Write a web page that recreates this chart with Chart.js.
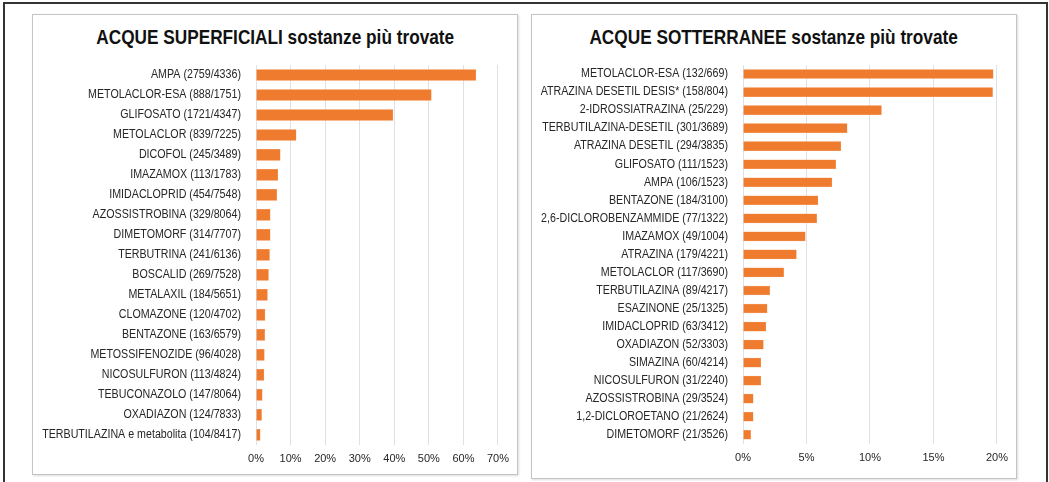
<!DOCTYPE html>
<html>
<head>
<meta charset="utf-8">
<script src="https://cdn.jsdelivr.net/npm/chart.js@4/dist/chart.umd.min.js"></script>
<style>
  html, body { margin: 0; padding: 0; background: #fff; }
  body { width: 1049px; height: 482px; position: relative; overflow: hidden; }
  .frame { position: absolute; left: 3px; top: 2px; width: 1041px; height: 490px; border: 2px solid #333; }
  .panel { position: absolute; top: 14px; width: 484px; border: 1px solid #c4c4c4; box-shadow: 1px 1px 2px #ddd; background: #fff; }
  .panel .title { position: absolute; left: 0; right: 0; top: 10px; text-align: center; }
  .panel .title span { display: inline-block; transform: scaleX(0.82); font-family: "Liberation Sans", Arial, sans-serif; font-weight: bold; font-size: 21px; color: #111; white-space: nowrap; }
  .panel canvas { position: absolute; left: 0; top: 0; }
</style>
</head>
<body>
<div class="frame"></div>
<div class="panel" id="p1" style="left:32px; height:459px;">
  <div class="title"><span>ACQUE SUPERFICIALI sostanze più trovate</span></div>
  <canvas id="supChart" width="484" height="459"></canvas>
</div>
<div class="panel" id="p2" style="left:531px; height:463px;">
  <div class="title"><span>ACQUE SOTTERRANEE sostanze più trovate</span></div>
  <canvas id="sottChart" width="484" height="463"></canvas>
</div>
<script>
const supLabels = [
  "AMPA (2759/4336)", "METOLACLOR-ESA (888/1751)", "GLIFOSATO (1721/4347)", "METOLACLOR (839/7225)",
  "DICOFOL (245/3489)", "IMAZAMOX (113/1783)", "IMIDACLOPRID (454/7548)", "AZOSSISTROBINA (329/8064)",
  "DIMETOMORF (314/7707)", "TERBUTRINA (241/6136)", "BOSCALID (269/7528)", "METALAXIL (184/5651)",
  "CLOMAZONE (120/4702)", "BENTAZONE (163/6579)", "METOSSIFENOZIDE (96/4028)", "NICOSULFURON (113/4824)",
  "TEBUCONAZOLO (147/8064)", "OXADIAZON (124/7833)", "TERBUTILAZINA e metabolita (104/8417)"
];
const supValues = [63.6, 50.7, 39.6, 11.6, 7.0, 6.3, 6.0, 4.1, 4.1, 3.9, 3.6, 3.3, 2.6, 2.5, 2.4, 2.3, 1.8, 1.6, 1.2];

const sottLabels = [
  "METOLACLOR-ESA (132/669)", "ATRAZINA DESETIL DESIS* (158/804)", "2-IDROSSIATRAZINA (25/229)",
  "TERBUTILAZINA-DESETIL (301/3689)", "ATRAZINA DESETIL (294/3835)", "GLIFOSATO (111/1523)", "AMPA (106/1523)",
  "BENTAZONE (184/3100)", "2,6-DICLOROBENZAMMIDE (77/1322)", "IMAZAMOX (49/1004)", "ATRAZINA (179/4221)",
  "METOLACLOR (117/3690)", "TERBUTILAZINA (89/4217)", "ESAZINONE (25/1325)", "IMIDACLOPRID (63/3412)",
  "OXADIAZON (52/3303)", "SIMAZINA (60/4214)", "NICOSULFURON (31/2240)", "AZOSSISTROBINA (29/3524)",
  "1,2-DICLOROETANO (21/2624)", "DIMETOMORF (21/3526)"
];
const sottValues = [19.7, 19.65, 10.9, 8.2, 7.7, 7.3, 7.0, 5.9, 5.8, 4.9, 4.2, 3.2, 2.1, 1.9, 1.8, 1.6, 1.4, 1.4, 0.8, 0.8, 0.6];

const FONT = "'Liberation Sans', Arial, sans-serif";

// y labels drawn narrower than the default font, like the original condensed type
const narrowLabels = {
  id: "narrowLabels",
  afterDraw(chart) {
    const ctx = chart.ctx;
    const y = chart.scales.y;
    const x0 = chart.chartArea.left - 15;
    ctx.save();
    ctx.font = "12px " + FONT;
    ctx.fillStyle = "#262626";
    ctx.textAlign = "right";
    ctx.textBaseline = "middle";
    chart.data.labels.forEach((label, i) => {
      ctx.save();
      ctx.translate(x0, y.getPixelForValue(i));
      ctx.scale(0.89, 1);
      ctx.fillText(label, 0, 0);
      ctx.restore();
    });
    ctx.restore();
  }
};

function createBarChart(ctx, labels, values, maxX, step, yWidth, barThick, padBottom) {
  return new Chart(ctx, {
    type: "bar",
    data: {
      labels: labels,
      datasets: [{
        data: values,
        backgroundColor: "#EF7B2E",
        borderColor: "#F5A06A",
        borderWidth: 0.5,
        barThickness: barThick
      }]
    },
    options: {
      indexAxis: "y",
      responsive: false,
      animation: false,
      layout: { padding: { top: 50, right: 15, bottom: padBottom, left: 0 } },
      plugins: { legend: { display: false }, tooltip: { enabled: false } },
      scales: {
        x: {
          min: 0,
          max: maxX,
          border: { display: false },
          grid: { color: "#dfe0e8", drawTicks: false },
          ticks: {
            stepSize: step,
            padding: 8,
            color: "#262626",
            font: { family: FONT, size: 11 },
            callback: v => v + "%"
          }
        },
        y: {
          border: { display: false },
          grid: { display: false, drawTicks: false },
          afterFit: scale => { scale.width = yWidth; },
          ticks: { display: false }
        }
      }
    },
    plugins: [narrowLabels]
  });
}

createBarChart(document.getElementById("supChart").getContext("2d"), supLabels, supValues, 70, 10, 223, 11, 0);
createBarChart(document.getElementById("sottChart").getContext("2d"), sottLabels, sottValues, 20, 5, 211, 9, 5);
</script>
</body>
</html>
